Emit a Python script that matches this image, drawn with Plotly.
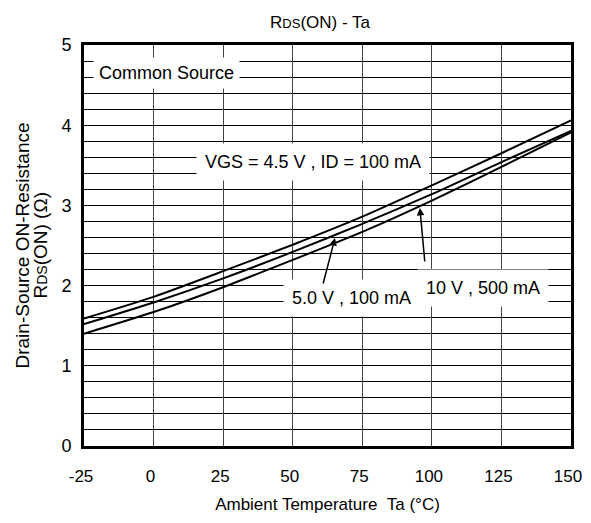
import plotly.graph_objects as go

temperature = [-25, 0, 25, 50, 75, 100, 125, 150]
r_vgs45_100mA = [1.59, 1.86, 2.18, 2.51, 2.86, 3.25, 3.65, 4.06]
r_vgs50_100mA = [1.52, 1.79, 2.09, 2.42, 2.77, 3.14, 3.54, 3.93]
r_vgs10_500mA = [1.40, 1.67, 1.98, 2.32, 2.67, 3.06, 3.48, 3.91]

x_ticks = [-25, 0, 25, 50, 75, 100, 125, 150]
y_ticks = [0, 1, 2, 3, 4, 5]

FONT = "Liberation Sans, Arial, sans-serif"
OFF = 8  # page body margin
W, H = 591 - OFF, 523 - 2 * OFF

fig = go.Figure()
for name, ys in [("VGS = 4.5 V, ID = 100 mA", r_vgs45_100mA),
                 ("5.0 V, 100 mA", r_vgs50_100mA),
                 ("10 V, 500 mA", r_vgs10_500mA)]:
    fig.add_trace(go.Scatter(x=temperature, y=ys, mode="lines", name=name,
                             line=dict(color="black", width=2, shape="spline", smoothing=0.6),
                             showlegend=False))

annotations = [
    dict(x=4.8, y=4.65, text="Common Source", showarrow=False,
         font=dict(size=18, color="black", family=FONT), bgcolor="white", borderpad=5),
    dict(x=57.3, y=3.54, text="VGS = 4.5 V , ID = 100 mA", showarrow=False,
         font=dict(size=18, color="black", family=FONT), bgcolor="white", borderpad=8),
    dict(x=71.3, y=1.845, text="5.0 V , 100 mA", showarrow=False,
         font=dict(size=18, color="black", family=FONT), bgcolor="white", borderpad=8),
    dict(x=118.3, y=1.97, text="10 V , 500 mA", showarrow=False,
         font=dict(size=18, color="black", family=FONT), bgcolor="white", borderpad=8),
    dict(x=65.2, y=2.594, ax=60.8, ay=2.007, axref="x", ayref="y", text="",
         showarrow=True, arrowhead=2, arrowsize=1, arrowwidth=1.5, arrowcolor="black"),
    dict(x=95.7, y=2.968, ax=97.5, ay=2.282, axref="x", ayref="y", text="",
         showarrow=True, arrowhead=2, arrowsize=1, arrowwidth=1.5, arrowcolor="black"),
    dict(xref="paper", yref="paper", x=(22 - 84) / 487, y=0.5, xanchor="center", yanchor="middle",
         text="Drain-Source ON-Resistance", textangle=-90, showarrow=False,
         font=dict(size=19, color="black", family=FONT)),
    dict(xref="paper", yref="paper", x=(40 - 84) / 487, y=0.5, xanchor="center", yanchor="middle",
         text="R<span style='font-size:14px'>DS</span>(ON) (Ω)", textangle=-90, showarrow=False,
         font=dict(size=19, color="black", family=FONT)),
]

fig.update_layout(
    width=W, height=H,
    margin=dict(l=84 - OFF, r=W - (571 - OFF), t=45 - OFF, b=H - (446 - OFF)),
    paper_bgcolor="white", plot_bgcolor="white",
    title=dict(text="R<span style='font-size:13px'>DS</span>(ON) - Ta",
               x=(320 - OFF) / W, xanchor="center", y=1 - (22 - OFF) / H, yanchor="middle",
               font=dict(size=17, color="black", family=FONT)),
    annotations=annotations,
    xaxis=dict(range=[-25, 150], tickvals=x_ticks, ticktext=[str(v) for v in x_ticks],
               automargin=False, ticklabeloverflow="allow", ticklabelshift=-3,
               showgrid=True, gridcolor="#444444", gridwidth=1, zeroline=False,
               showline=True, linecolor="black", linewidth=3, mirror=True,
               ticks="outside", ticklen=13, tickcolor="rgba(0,0,0,0)",
               tickfont=dict(size=17, color="black", family=FONT),
               title=dict(text="Ambient Temperature\u00a0\u00a0Ta (°C)", standoff=13,
                          font=dict(size=17, color="black", family=FONT))),
    yaxis=dict(range=[0, 5], tickvals=y_ticks, ticktext=[str(v) for v in y_ticks],
               automargin=False,
               showgrid=True, gridcolor="black", gridwidth=1, zeroline=False,
               minor=dict(dtick=0.2, showgrid=True, gridcolor="black", gridwidth=1),
               showline=True, linecolor="black", linewidth=3, mirror=True,
               ticks="outside", ticklen=6, tickcolor="rgba(0,0,0,0)",
               tickfont=dict(size=18, color="black", family=FONT)),
)

fig.write_html("out.html")
